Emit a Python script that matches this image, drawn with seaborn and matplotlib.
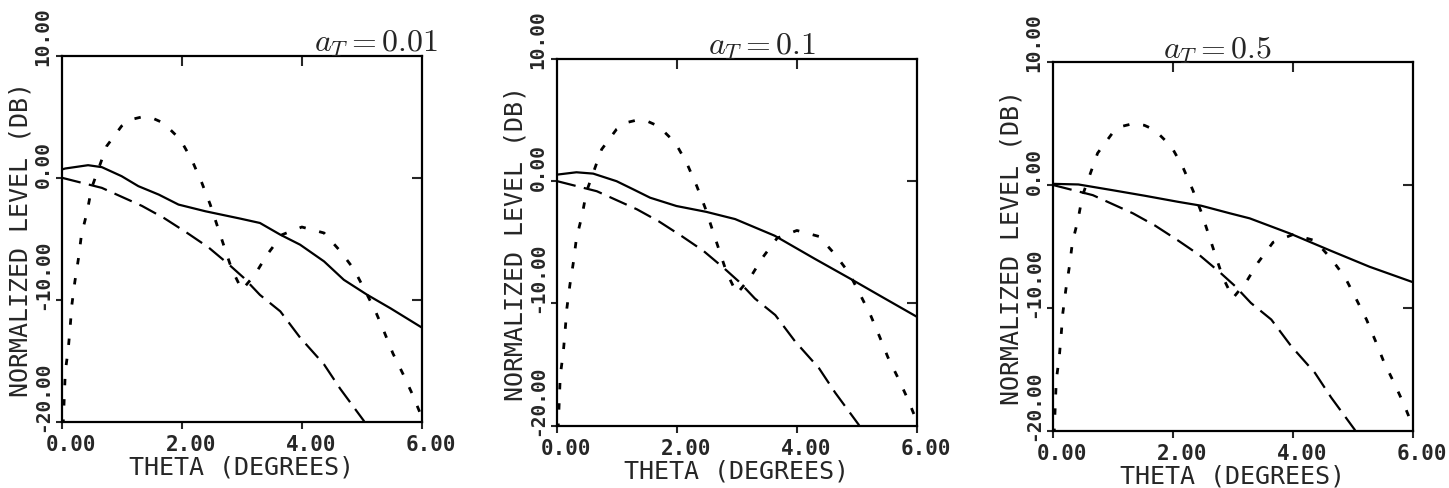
import pandas as pd
import seaborn as sns
import matplotlib.pyplot as plt
from matplotlib.transforms import ScaledTranslation

# dotted curve (same in every panel)
theta_dot = [0.0, 0.05, 0.1, 0.13, 0.16, 0.21, 0.27, 0.32, 0.41, 0.49, 0.74, 0.99, 1.16, 1.33, 1.52,
             1.69, 1.97, 2.16, 2.33, 2.47, 2.59, 2.71, 2.83, 3.0, 3.22, 3.42, 3.67, 4.0, 4.37, 4.64,
             4.87, 5.06, 5.23, 5.38, 5.52, 5.69, 5.85, 6.0]
level_dot = [-22.0, -15.9, -14.0, -12.3, -10.4, -8.5, -6.6, -4.66, -2.88, -0.82, 2.6, 4.25, 4.8, 5.0, 4.87,
             4.5, 3.15, 1.5, -0.41, -2.19, -3.97, -5.75, -7.5, -9.2, -7.9, -6.3, -4.66, -4.03, -4.52, -6.0,
             -7.5, -9.3, -10.95, -12.7, -14.4, -16.1, -17.8, -19.6]

# dashed curve (same in every panel)
theta_dash = [0.0, 0.66, 1.33, 1.7, 2.08, 2.44, 2.78, 3.03, 3.3, 3.64, 3.97, 4.37, 4.64, 5.03, 5.1]
level_dash = [0.0, -0.82, -2.3, -3.3, -4.5, -5.7, -7.1, -8.2, -9.6, -10.95, -13.1, -15.3, -17.3, -19.9, -20.5]

# solid curves, one per a_T
theta_a001 = [0.0, 0.05, 0.43, 0.66, 0.99, 1.27, 1.61, 1.94, 2.39, 2.97, 3.3, 3.64, 3.97, 4.37, 4.7, 5.09, 5.48, 6.0]
level_a001 = [0.7, 0.77, 1.04, 0.88, 0.14, -0.68, -1.37, -2.19, -2.74, -3.34, -3.7, -4.66, -5.48, -6.85, -8.36,
              -9.59, -10.7, -12.27]
theta_a01 = [0.0, 0.32, 0.6, 0.99, 1.27, 1.55, 1.99, 2.49, 2.97, 3.63, 4.3, 4.89, 5.42, 6.0]
level_a01 = [0.54, 0.73, 0.62, 0.0, -0.67, -1.35, -2.03, -2.51, -3.1, -4.46, -6.35, -7.97, -9.46, -11.08]
theta_a05 = [0.0, 0.42, 0.97, 1.53, 2.08, 2.47, 2.95, 3.28, 3.95, 4.61, 5.28, 6.0]
level_a05 = [0.1, 0.05, -0.4, -0.87, -1.36, -1.68, -2.3, -2.71, -3.94, -5.3, -6.65, -7.9]

titles = [r"$a_T = 0.01$", r"$a_T = 0.1$", r"$a_T = 0.5$"]
x_ticks = [0, 2, 4, 6]
x_ticklabels = ["0.00", "2.00", "4.00", "6.00"]
y_ticks = [-20, -10, 0, 10]
y_ticklabels = ["-20.00", "-10.00", "0.00", "10.00"]

sns.set_style("ticks")
plt.rcParams["font.family"] = ["DejaVu Sans Mono", "DejaVu Sans"]
plt.rcParams["mathtext.fontset"] = "cm"

fig = plt.figure(figsize=(14.49, 4.89), dpi=100)
rects = [
    [0.0430, 0.1356, 0.2480, 0.7479],
    [0.3846, 0.1274, 0.2480, 0.7500],
    [0.7269, 0.1172, 0.2480, 0.7534],
]
title_x = [0.873, 0.569, 0.457]
solids = [(theta_a001, level_a001), (theta_a01, level_a01), (theta_a05, level_a05)]

dot_df = pd.DataFrame({"theta": theta_dot, "level": level_dot})
dash_df = pd.DataFrame({"theta": theta_dash, "level": level_dash})

for i, rect in enumerate(rects):
    ax = fig.add_axes(rect)
    solid_df = pd.DataFrame({"theta": solids[i][0], "level": solids[i][1]})

    sns.lineplot(data=solid_df, x="theta", y="level", ax=ax, color="black", lw=1.6)
    sns.lineplot(data=dash_df, x="theta", y="level", ax=ax, color="black", lw=1.6,
                 linestyle=(0, (8.5, 3.8)))
    sns.lineplot(data=dot_df, x="theta", y="level", ax=ax, color="black", lw=2.0,
                 linestyle=(0, (2.3, 5.0)))

    ax.set_xlim(0, 6)
    ax.set_ylim(-20, 10)
    for s in ax.spines.values():
        s.set_linewidth(1.6)
        s.set_color("black")

    ax.set_xticks(x_ticks, x_ticklabels, fontsize=15, fontweight="bold")
    ax.set_yticks(y_ticks, y_ticklabels, fontsize=14, fontweight="bold", rotation=90, va="bottom")
    ax.tick_params(axis="x", direction="out", length=5, width=1.5, pad=4)
    ax.tick_params(axis="y", direction="out", length=4, width=1.5, pad=3)
    for lab in ax.get_xticklabels():
        lab.set_transform(lab.get_transform() + ScaledTranslation(0.09, 0, fig.dpi_scale_trans))
    for lab in ax.get_yticklabels():
        lab.set_transform(lab.get_transform() + ScaledTranslation(0, -0.09, fig.dpi_scale_trans))

    top = ax.secondary_xaxis("top")
    top.set_xticks([2, 4])
    top.tick_params(direction="in", length=7, width=1.5, labeltop=False)
    top.spines["top"].set_visible(False)
    right = ax.secondary_yaxis("right")
    right.set_yticks([-10, 0])
    right.tick_params(direction="in", length=7, width=1.5, labelright=False)
    right.spines["right"].set_visible(False)

    ax.set_xlabel("THETA (DEGREES)", fontsize=18, labelpad=0)
    ax.set_ylabel("NORMALIZED LEVEL (DB)", fontsize=18, labelpad=1)
    ax.text(title_x[i], 1.014, titles[i], transform=ax.transAxes, ha="center", va="baseline",
            fontsize=23)

fig.savefig("out.png", dpi=100, facecolor="white")
